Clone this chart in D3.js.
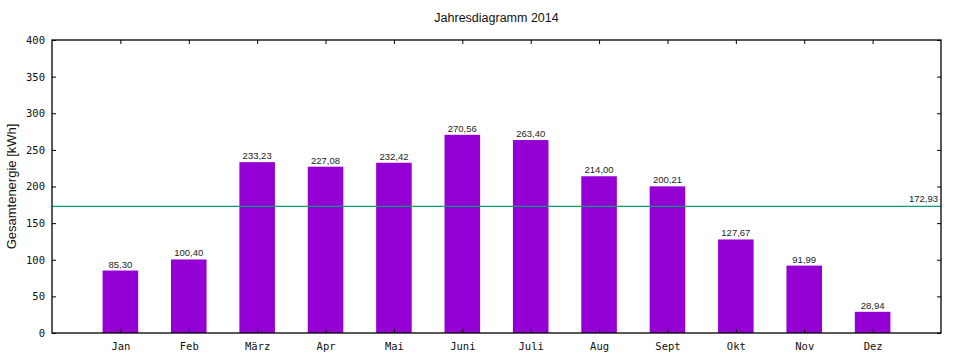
<!DOCTYPE html>
<html><head><meta charset="utf-8">
<script src="https://cdn.jsdelivr.net/npm/d3@7"></script>
<style>body{margin:0;background:#fff}svg{display:block}</style>
</head><body><svg id="c" width="960" height="360"></svg>
<script>
const months = ["Jan","Feb","März","Apr","Mai","Juni","Juli","Aug","Sept","Okt","Nov","Dez"];
const values = [85.30,100.40,233.23,227.08,232.42,270.56,263.40,214.00,200.21,127.67,91.99,28.94];
const average = 172.93;
const yTicks = [0,50,100,150,200,250,300,350,400];
const title = "Jahresdiagramm 2014";
const yLabel = "Gesamtenergie [kWh]";

const fmt = v => v.toFixed(2).replace(".", ",");
const svg = d3.select("#c");
const L = 52, R = 941, T = 40, B = 333;
const x = d3.scaleLinear().domain([0, months.length + 1]).range([L, R]);
const y = d3.scaleLinear().domain([0, 400]).range([B, T]);
const bw = (x(1) - x(0)) * 0.52;
const tickFont = "'DejaVu Sans Mono', monospace";
const tl = 4;

// bars
svg.selectAll("rect.bar").data(values).enter().append("rect")
  .attr("x", (d,i) => x(i+1) - bw/2).attr("width", bw)
  .attr("y", d => y(d)).attr("height", d => y(0) - y(d))
  .attr("fill", "#9400d3");

// bar labels
svg.selectAll("text.val").data(values).enter().append("text")
  .attr("x", (d,i) => x(i+1)).attr("y", d => y(d) - 3)
  .attr("text-anchor", "middle").attr("font-family", "'Liberation Sans', Arial, sans-serif")
  .attr("font-size", 9.5).attr("fill", "#222").text(d => fmt(d));

// average line
svg.append("line").attr("x1", L).attr("x2", R).attr("y1", y(average)).attr("y2", y(average))
  .attr("stroke", "#009e73").attr("stroke-width", 1.2);
svg.append("text").attr("x", R - 3).attr("y", y(average) - 4).attr("text-anchor", "end")
  .attr("font-family", "'Liberation Sans', Arial, sans-serif").attr("font-size", 9.5).attr("fill", "#222")
  .text(fmt(average));

// axes
const xb = svg.append("g").attr("transform", `translate(0,${B})`)
  .call(d3.axisBottom(x).tickValues(d3.range(1, months.length+1)).tickFormat(i => months[i-1]).tickSizeInner(-tl).tickSizeOuter(0).tickPadding(10));
const xt = svg.append("g").attr("transform", `translate(0,${T})`)
  .call(d3.axisTop(x).tickValues(d3.range(1, months.length+1)).tickFormat("").tickSizeInner(-tl).tickSizeOuter(0));
const yl = svg.append("g").attr("transform", `translate(${L},0)`)
  .call(d3.axisLeft(y).tickValues(yTicks).tickFormat(d3.format("d")).tickSizeInner(-tl).tickSizeOuter(0).tickPadding(7));
const yr = svg.append("g").attr("transform", `translate(${R},0)`)
  .call(d3.axisRight(y).tickValues(yTicks).tickFormat("").tickSizeInner(-tl).tickSizeOuter(0));
[xb, xt, yl, yr].forEach(g => {
  g.select(".domain").remove();
  g.selectAll("line").attr("stroke", "#000");
  g.selectAll("text").attr("font-family", tickFont).attr("font-size", 10.5).attr("fill", "#111");
});
svg.append("rect").attr("x", L).attr("y", T).attr("width", R - L).attr("height", B - T)
  .attr("fill", "none").attr("stroke", "#000").attr("stroke-width", 1.3);

// title
svg.append("text").attr("x", (L + R) / 2).attr("y", 22).attr("text-anchor", "middle")
  .attr("font-family", "'Liberation Sans', Arial, sans-serif").attr("font-size", 12.5).attr("fill", "#111")
  .text(title);
// y label
svg.append("text").attr("transform", `translate(16,${(T + B) / 2}) rotate(-90)`).attr("text-anchor", "middle")
  .attr("font-family", "'Liberation Sans', Arial, sans-serif").attr("font-size", 13).attr("fill", "#111")
  .text(yLabel);
</script></body></html>
